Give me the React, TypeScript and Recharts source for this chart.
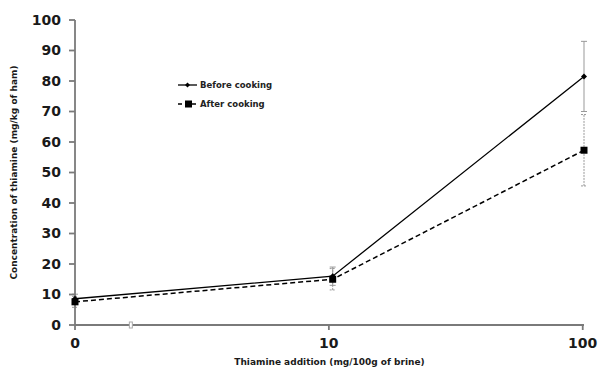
import React from "react";
import {
  LineChart,
  Line,
  XAxis,
  YAxis,
  ErrorBar,
  ReferenceDot,
  Label,
} from "recharts";

// Thiamine added to the brine, placed on a log10 scale ("0" sits at the origin)
const additionPos = [0, 1.015, 2.005];
const xTickPos = [0, 1, 2];
const xTickLabels = ["0", "10", "100"];
const yTicks = [0, 10, 20, 30, 40, 50, 60, 70, 80, 90, 100];

// Thiamine concentration in ham (mg/kg) with standard deviations
const beforeCooking = [8.6, 16.0, 81.5];
const beforeSd = [1.5, 3.0, 11.5];
const afterCooking = [7.6, 15.0, 57.3];
const afterSd = [1.8, 3.5, 11.7];

const data = additionPos.map((x, i) => ({
  x,
  before: beforeCooking[i],
  beforeErr: beforeSd[i],
  after: afterCooking[i],
  afterErr: afterSd[i],
}));

const FONT = "'DejaVu Sans', Verdana, sans-serif";

const Diamond = (props: any) => {
  const { cx, cy } = props;
  if (cx == null || cy == null) return null;
  const r = 3;
  return (
    <path
      d={`M${cx},${cy - r}L${cx + r},${cy}L${cx},${cy + r}L${cx - r},${cy}Z`}
      fill="#000"
    />
  );
};

const Square = (props: any) => {
  const { cx, cy } = props;
  if (cx == null || cy == null) return null;
  const s = 7;
  return <rect x={cx - s / 2} y={cy - s / 2} width={s} height={s} fill="#000" />;
};

// Axis-break marker drawn on the x axis between 0 and 10
const BreakMark = (props: any) => {
  const { cx, cy } = props;
  if (cx == null || cy == null) return null;
  return (
    <g stroke="#aaa" strokeWidth={1} fill="#fff">
      <rect x={cx - 1.5} y={cy - 3} width={3} height={6} />
    </g>
  );
};

const LegendBox = () => (
  <g fontFamily={FONT} fontWeight="bold" fontSize={8.5} fill="#222">
    <line x1={178} y1={85} x2={197} y2={85} stroke="#000" strokeWidth={1.3} />
    <path d="M187.5,82.5L190,85L187.5,87.5L185,85Z" fill="#000" />
    <text x={200} y={88}>Before cooking</text>
    <line
      x1={178}
      y1={104}
      x2={197}
      y2={104}
      stroke="#000"
      strokeWidth={1.5}
      strokeDasharray="4 3"
    />
    <rect x={185} y={100.5} width={7} height={7} fill="#000" />
    <text x={200} y={107}>After cooking</text>
  </g>
);

export default function App() {
  return (
    <div style={{ position: "absolute", left: 0, top: 0, background: "#fff" }}>
      <LineChart
        width={599}
        height={372}
        data={data}
        margin={{ top: 20, right: 15, bottom: 17, left: 15 }}
      >
        <XAxis
          dataKey="x"
          type="number"
          domain={[0, 2]}
          ticks={xTickPos}
          tickFormatter={(v: number) => xTickLabels[xTickPos.indexOf(v)] ?? ""}
          height={30}
          stroke="#7a7a7a"
          strokeWidth={1.8}
          tickSize={5}
          tickMargin={8}
          tick={{ fill: "#1a1a1a", fontSize: 14, fontWeight: "bold", fontFamily: FONT }}
          interval={0}
        >
          <Label
            value="Thiamine addition (mg/100g of brine)"
            position="insideBottom"
            offset={-10}
            style={{ fontSize: 9, fontWeight: "bold", fontFamily: FONT, fill: "#1a1a1a" }}
          />
        </XAxis>
        <YAxis
          type="number"
          domain={[0, 100]}
          ticks={yTicks}
          width={60}
          stroke="#7a7a7a"
          strokeWidth={1.8}
          tickSize={6}
          tickMargin={8}
          tick={{ fill: "#1a1a1a", fontSize: 14, fontWeight: "bold", fontFamily: FONT }}
          interval={0}
        >
          <Label
            value="Concentration of thiamine (mg/kg of ham)"
            angle={-90}
            position="insideLeft"
            offset={-1}
            style={{
              fontSize: 9,
              fontWeight: "bold",
              fontFamily: FONT,
              fill: "#1a1a1a",
              textAnchor: "middle",
            }}
          />
        </YAxis>
        <ReferenceDot x={0.22} y={0} r={3} shape={BreakMark} ifOverflow="visible" />
        <Line
          dataKey="after"
          stroke="#000"
          strokeWidth={1.5}
          strokeDasharray="5 3"
          dot={Square}
          activeDot={false}
          isAnimationActive={false}
        >
          <ErrorBar
            dataKey="afterErr"
            direction="y"
            width={3}
            stroke="#999"
            strokeWidth={1}
            strokeDasharray="2 1"
            isAnimationActive={false}
          />
        </Line>
        <Line
          dataKey="before"
          stroke="#000"
          strokeWidth={1.3}
          dot={Diamond}
          activeDot={false}
          isAnimationActive={false}
        >
          <ErrorBar
            dataKey="beforeErr"
            direction="y"
            width={3}
            stroke="#999"
            strokeWidth={1}
            isAnimationActive={false}
          />
        </Line>
        <LegendBox />
      </LineChart>
    </div>
  );
}
